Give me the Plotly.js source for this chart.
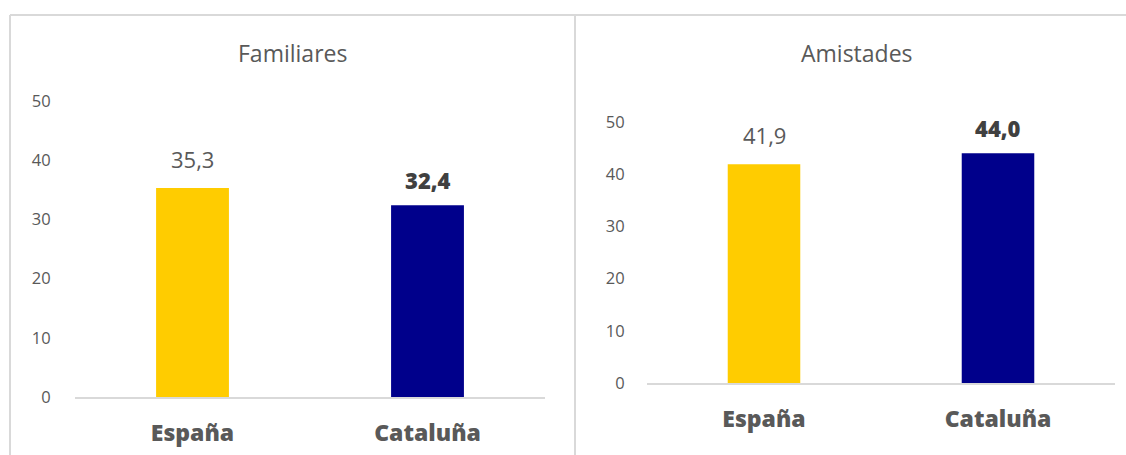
<!DOCTYPE html>
<html>
<head>
<meta charset="utf-8">
<script src="https://cdn.plot.ly/plotly-3.0.1.min.js"></script>
<style>html,body{margin:0;padding:0;background:#fff;}#chart{width:1126px;height:455px;}</style>
</head>
<body>
<div id="chart"></div>
<script>
const categories = ["España", "Cataluña"];
const familiares = [35.3, 32.4];
const amistades = [41.9, 44.0];
const panelTitles = ["Familiares", "Amistades"];
const barColors = ["#FFCC00", "#00008B"];
const yTicks = [0, 10, 20, 30, 40, 50];

const W = 1126, H = 455;
const fx = p => p / W;
const fy = p => 1 - p / H;

const fmt = v => v.toFixed(1).replace('.', ',');

const traces = [
  {type:'bar', x:categories, y:familiares, xaxis:'x', yaxis:'y', marker:{color:barColors}, width:0.31, hoverinfo:'none'},
  {type:'bar', x:categories, y:amistades, xaxis:'x2', yaxis:'y2', marker:{color:barColors}, width:0.31, hoverinfo:'none'}
];

const tickFont = {family:'Open Sans, sans-serif', size:16.5, color:'#595959'};
const catFont = {family:'Open Sans, sans-serif', size:23, color:'#595959', weight:800};

function yax(domain, standoff){
  return {domain:domain, range:[0,50], tickvals:yTicks, showgrid:false, zeroline:false, showline:false,
    ticks:'outside', ticklen:standoff, tickcolor:'rgba(0,0,0,0)', tickfont:tickFont, fixedrange:true};
}
function xax(domain, anchor, tl){
  return {domain:domain, anchor:anchor, showgrid:false, zeroline:false, showline:true, linecolor:'#d9d9d9', linewidth:2,
    ticks:'outside', ticklen:tl, tickcolor:'rgba(0,0,0,0)', tickfont:catFont, fixedrange:true};
}

const annotations = [];
[[familiares,'x','y'],[amistades,'x2','y2']].forEach(([vals,xa,ya]) => {
  vals.forEach((v,i) => {
    const bold = i === 1;
    annotations.push({
      x:categories[i], y:v, xref:xa, yref:ya, xanchor:'center', yanchor:'bottom', yshift:bold?8:12,
      text: fmt(v), showarrow:false,
      font: bold ? {family:'Open Sans, sans-serif', size:22, color:'#404040', weight:800}
                 : {family:'Open Sans, sans-serif', size:22, color:'#595959', weight:400}
    });
  });
});
annotations.push({x:fx(292), y:fy(53), xref:'paper', yref:'paper', xanchor:'center', yanchor:'middle', showarrow:false,
  text:panelTitles[0], font:{family:'Open Sans, sans-serif', size:23, color:'#595959', weight:400}});
annotations.push({x:fx(857), y:fy(53), xref:'paper', yref:'paper', xanchor:'center', yanchor:'middle', showarrow:false,
  text:panelTitles[1], font:{family:'Open Sans, sans-serif', size:23, color:'#595959', weight:400}});

const border = '#d9d9d9';
const shapes = [
  {type:'line', xref:'paper', yref:'paper', x0:fx(10), x1:1, y0:fy(15), y1:fy(15), line:{color:border, width:2}},
  {type:'line', xref:'paper', yref:'paper', x0:fx(10), x1:fx(10), y0:fy(15), y1:0, line:{color:border, width:2}},
  {type:'line', xref:'paper', yref:'paper', x0:fx(575), x1:fx(575), y0:fy(15), y1:0, line:{color:border, width:2}}
];

const layout = {
  width:W, height:H, margin:{l:0,r:0,t:0,b:0}, showlegend:false,
  paper_bgcolor:'#fff', plot_bgcolor:'rgba(0,0,0,0)',
  xaxis: xax([fx(75), fx(545)], 'y', 14),
  yaxis: Object.assign(yax([fy(397), fy(101)], 20), {anchor:'x'}),
  xaxis2: xax([fx(647), fx(1115)], 'y2', 14),
  yaxis2: Object.assign(yax([fy(383), fy(122)], 18), {anchor:'x2'}),
  annotations: annotations, shapes: shapes
};

Plotly.newPlot('chart', traces, layout, {staticPlot:true, displayModeBar:false});
</script>
</body>
</html>
